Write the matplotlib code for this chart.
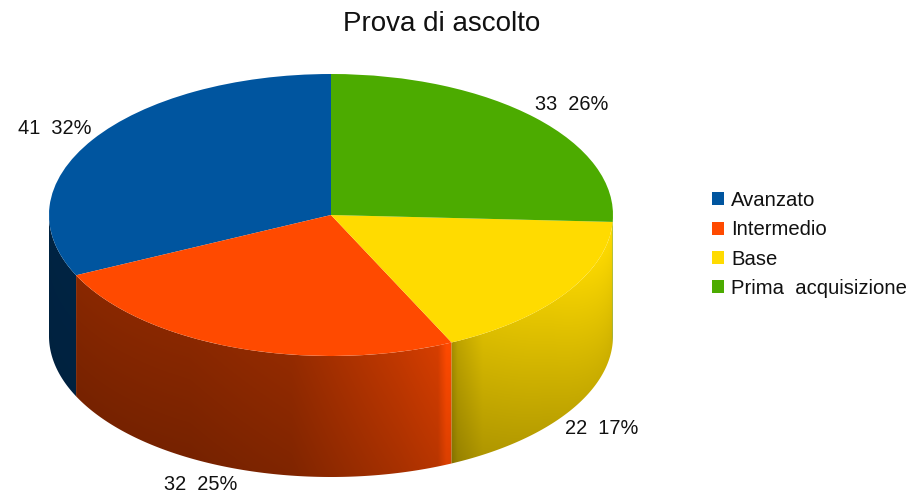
import numpy as np
import matplotlib
matplotlib.use("Agg")
import matplotlib.pyplot as plt
from matplotlib.patches import Polygon

plt.rcParams['font.family'] = ['Liberation Sans', 'DejaVu Sans']

# ===== data =====
categories = ['Avanzato', 'Intermedio', 'Base', 'Prima  acquisizione']
values = [41, 32, 22, 33]
colors = ['#00559f', '#ff4a00', '#ffdb00', '#4cab00']
title = 'Prova di ascolto'

# wall shading, left to right, as fractions of the full slice colour
# (position is measured across the width of the pie, 0 left edge, 1 right edge)
shade_x = [[0.00, 0.10],
           [0.09, 0.25, 0.43, 0.62, 0.69, 0.705, 0.715],
           [0.712, 0.725, 0.77, 0.89, 1.00],
           [0.99, 1.00]]
shade_v = [[0.42, 0.42],
           [0.54, 0.54, 0.58, 0.76, 0.84, 1.00, 1.00],
           [0.62, 0.74, 0.86, 0.92, 1.00],
           [0.85, 0.85]]
shade_drop = [0.05, 0.14, 0.20, 0.10]

# data label centres in figure pixels
label_px = [(55, 128), (201, 484), (602, 429), (572, 105)]

# ===== geometry in pixels =====
W, H = 912, 492
CX, CY, RX, RY = 331, 215, 282, 141
DEPTH = 121 / RY

fig = plt.figure(figsize=(W / 100, H / 100), dpi=100)
ax = fig.add_axes([0, 0, 1, 1])
xlim = (-CX / RX, (W - CX) / RX)
ylim = ((CY - H) / RY, CY / RY)

fracs = np.array(values) / sum(values)
edges = 90 + np.concatenate([[0], np.cumsum(fracs) * 360])

# ===== side walls =====
xs = np.linspace(-1, 1, 600)
for i in range(len(values)):
    a0, a1 = np.radians(max(edges[i], 180)), np.radians(min(edges[i + 1], 360))
    if a1 <= a0:
        continue
    t = np.linspace(a0, a1, 200)
    top = np.c_[np.cos(t), np.sin(t)]
    bottom = np.c_[np.cos(t[::-1]), np.sin(t[::-1]) - DEPTH]
    clip = Polygon(np.r_[top, bottom], closed=True, transform=ax.transData)

    ys = np.linspace(-1 - DEPTH, 0, 300)
    gx, gy = np.meshgrid(xs, ys)
    edge_y = -np.sqrt(np.clip(1 - gx ** 2, 0, 1))
    v = np.clip((edge_y - gy) / DEPTH, 0, 1)
    s = np.interp((gx + 1) / 2, shade_x[i], shade_v[i]) * (1 - shade_drop[i] * v)
    rgb = np.array(matplotlib.colors.to_rgb(colors[i]))
    img = np.clip(s[..., None] * rgb, 0, 1)
    im = ax.imshow(img, extent=(-1, 1, ys[0], ys[-1]), origin='lower',
                   aspect='auto', interpolation='bilinear', zorder=0.5)
    im.set_clip_path(clip)

# ===== top face =====
wedges, _ = ax.pie(values, colors=colors, startangle=90, radius=1,
                   wedgeprops={'linewidth': 0, 'zorder': 2})
ax.set_aspect('auto')
ax.set_xlim(xlim)
ax.set_ylim(ylim)
ax.axis('off')

# ===== text =====
fig.text(442 / W, 1 - 24 / H, title, fontsize=20, color='#111111',
         ha='center', va='center')

total = sum(values)
for v, (px, py) in zip(values, label_px):
    fig.text(px / W, 1 - py / H, f"{v}  {round(v / total * 100)}%", fontsize=14.4,
             color='#111111', ha='center', va='center')

fig.legend(wedges, categories, loc='upper left',
           bbox_to_anchor=(710 / W, 1 - 189 / H), frameon=False, fontsize=14.6,
           handlelength=0.6, handleheight=0.6, handletextpad=0.35,
           labelspacing=0.51, borderpad=0.1, borderaxespad=0, labelcolor='#111111')

plt.savefig("out.png", dpi=100)
